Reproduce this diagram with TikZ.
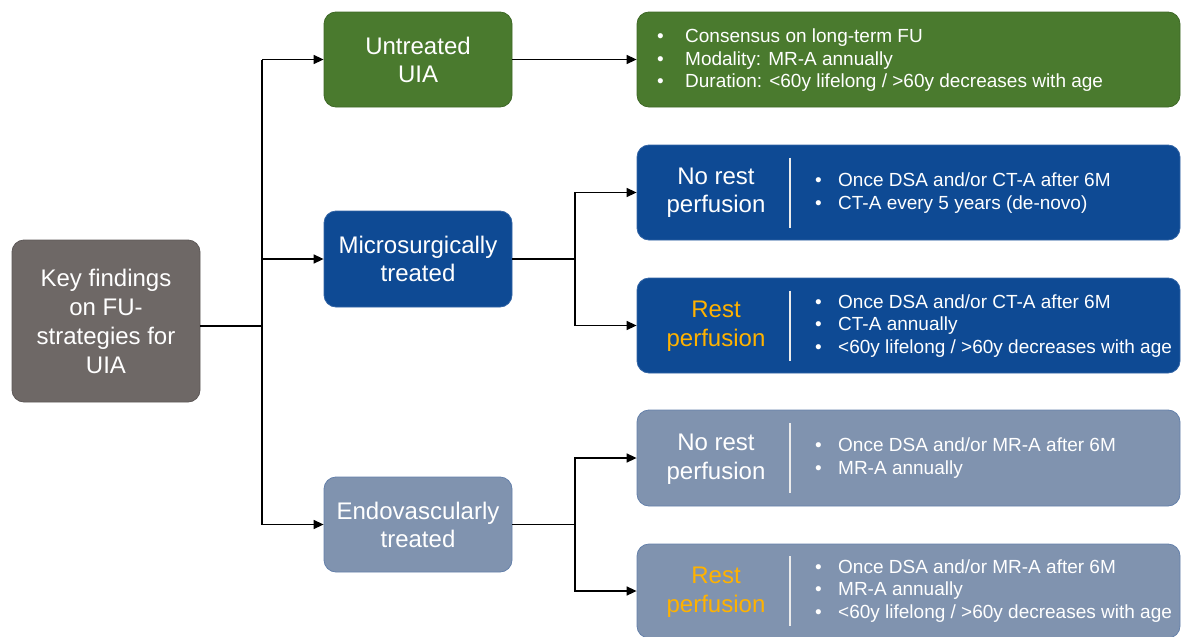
\documentclass[tikz,border=0pt]{standalone}
\usepackage{fontspec}
\setmainfont{Liberation Sans}
\usetikzlibrary{arrows.meta}
\definecolor{keygray}{RGB}{110,104,102}
\definecolor{untgreen}{RGB}{74,122,46}
\definecolor{untgreenb}{RGB}{62,104,38}
\definecolor{mblue}{RGB}{14,74,148}
\definecolor{mblueb}{RGB}{50,100,165}
\definecolor{eblue}{RGB}{128,147,175}
\definecolor{eblueb}{RGB}{100,128,170}
\definecolor{restorange}{RGB}{255,178,0}
\begin{document}
\begin{tikzpicture}[x=1pt,y=-1pt,
  box/.style={rounded corners=12pt, minimum width=188pt, minimum height=95pt, align=center,
    text=white, font=\fontsize{24}{28}\selectfont, inner sep=0pt, line width=0.8pt},
  wide/.style={rounded corners=12pt, minimum width=543pt, minimum height=95pt, inner sep=0pt, line width=0.8pt},
  lbl/.style={align=center, font=\fontsize{24}{28.5}\selectfont, text=white},
  bul/.style={font=\fontsize{19}{22.5}\selectfont, text=white, align=left, anchor=west, inner sep=0pt},
  divl/.style={white!85!gray, line width=1.2pt},
  wire/.style={line width=1.5pt},
  conn/.style={line width=1.5pt, -{Triangle[length=10pt,width=9pt]}}]
\useasboundingbox (0,0) rectangle (1181,637);

% left key box
\node[box, fill=keygray, draw=keygray!85!black, minimum height=162pt, font=\fontsize{24}{29}\selectfont] (key) at (106,321)
  {Key findings\\on FU-\\strategies for\\UIA};

% middle boxes
\node[box, fill=untgreen, draw=untgreenb] (unt) at (418,59.5) {Untreated\\UIA};
\node[box, fill=mblue, draw=mblueb, minimum height=96pt] (mic) at (418,259) {Microsurgically\\treated};
\node[box, fill=eblue, draw=eblueb] (endo) at (418,524.5) {Endovascularly\\treated};

% right boxes
\node[wide, fill=untgreen, draw=untgreenb] (grn) at (908.5,59.5) {};
\node[bul] (grnt) at (657,60.5) {\makebox[28pt][l]{•}Consensus on long-term FU\\
  \makebox[28pt][l]{•}Modality: MR-A annually\\
  \makebox[28pt][l]{•}Duration: <60y lifelong / >60y decreases with age};

\node[wide, fill=mblue, draw=mblueb] (nr1) at (908.5,192.5) {};
\node[lbl] (nr1l) at (716,192.5) {No rest\\perfusion};
\draw[divl] (790,157.5) -- (790,227.5);
\node[bul] (nr1t) at (815,193) {\makebox[23pt][l]{•}Once DSA and/or CT-A after 6M\\
  \makebox[23pt][l]{•}CT-A every 5 years (de-novo)};

\node[wide, fill=mblue, draw=mblueb] (r1) at (908.5,325.5) {};
\node[lbl, text=restorange] (r1l) at (716,326) {Rest\\perfusion};
\draw[divl] (790,290.5) -- (790,360.5);
\node[bul] (r1t) at (815,326) {\makebox[23pt][l]{•}Once DSA and/or CT-A after 6M\\
  \makebox[23pt][l]{•}CT-A annually\\
  \makebox[23pt][l]{•}<60y lifelong / >60y decreases with age};

\node[wide, fill=eblue, draw=eblueb, minimum height=96pt] (nr2) at (908.5,458) {};
\node[lbl] (nr2l) at (716,459) {No rest\\perfusion};
\draw[divl] (790,423) -- (790,493);
\node[bul] (nr2t) at (815,458) {\makebox[23pt][l]{•}Once DSA and/or MR-A after 6M\\
  \makebox[23pt][l]{•}MR-A annually};

\node[wide, fill=eblue, draw=eblueb, minimum height=94pt] (r2) at (908.5,591) {};
\node[lbl, text=restorange] (r2l) at (716,592) {Rest\\perfusion};
\draw[divl] (790,556) -- (790,626);
\node[bul] (r2t) at (815,591) {\makebox[23pt][l]{•}Once DSA and/or MR-A after 6M\\
  \makebox[23pt][l]{•}MR-A annually\\
  \makebox[23pt][l]{•}<60y lifelong / >60y decreases with age};

% connectors
\coordinate (tk) at (262,326);
\coordinate (tt) at (262,59.5);
\coordinate (te) at (262,524.5);
\coordinate (bm) at (575,259);
\coordinate (be) at (575,524.5);

\draw[wire] (key.east |- tk) -- (tk);
\draw[wire] (tt) -- (te);
\draw[conn] (tt) -- (unt.west);
\draw[conn] (tt |- mic.west) -- (mic.west);
\draw[conn] (te) -- (endo.west);
\draw[conn] (unt.east) -- (grn.west);

\draw[wire] (mic.east) -- (bm);
\draw[conn] (bm) |- (nr1.west);
\draw[conn] (bm) |- (r1.west);

\draw[wire] (endo.east) -- (be);
\draw[conn] (be) |- (nr2.west);
\draw[conn] (be) |- (r2.west);
\end{tikzpicture}
\end{document}
